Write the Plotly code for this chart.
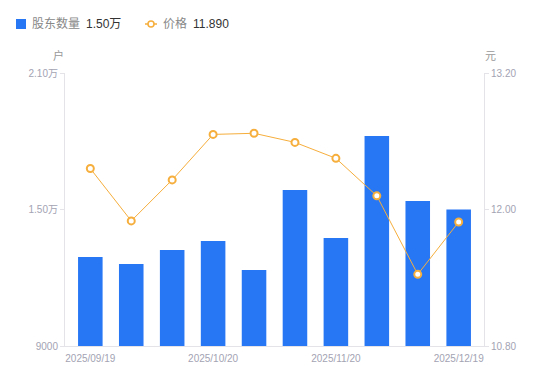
import plotly.graph_objects as go

dates = ["2025/09/19", "2025/09/30", "2025/10/10", "2025/10/20", "2025/10/31",
         "2025/11/10", "2025/11/20", "2025/11/30", "2025/12/10", "2025/12/19"]
holders = [12910, 12600, 13220, 13620, 12340, 15860, 13750, 18230, 15370, 15000]
prices = [12.36, 11.90, 12.26, 12.66, 12.67, 12.59, 12.45, 12.12, 11.43, 11.89]
x_tick_labels = ["2025/09/19", "2025/10/20", "2025/11/20", "2025/12/19"]
left_ticks = [9000, 15000, 21000]
left_tick_text = ["9000", "1.50万", "2.10万"]
right_ticks = [10.80, 12.00, 13.20]
right_tick_text = ["10.80", "12.00", "13.20"]

BLUE = "#2777f5"
ORANGE = "#f6ae3c"
GRAY = "#a3a3b3"
AXIS = "#e3e3e8"
FONT = "Liberation Sans, Arial, Noto Sans CJK SC"

fig = go.Figure()
fig.add_trace(go.Bar(x=dates, y=holders, marker_color=BLUE, marker_line_width=0,
                     yaxis="y", showlegend=False))
fig.add_trace(go.Scatter(x=dates, y=prices, yaxis="y2", mode="lines+markers",
                         line=dict(color=ORANGE, width=1),
                         marker=dict(symbol="circle", size=7, color="white",
                                     line=dict(color=ORANGE, width=2)),
                         showlegend=False))

# page body has an 8px margin, so offsets compensate
fig.update_layout(
    width=550, height=381,
    margin=dict(l=57, r=74, t=65, b=43),
    paper_bgcolor="white", plot_bgcolor="white",
    font=dict(family=FONT, size=10, color=GRAY),
    bargap=0.4,
    xaxis=dict(type="category", tickvals=x_tick_labels, ticktext=x_tick_labels,
               showgrid=False, showline=True, linecolor=AXIS, linewidth=1,
               ticks="", ticklabelstandoff=3,
               tickfont=dict(size=10, color=GRAY), zeroline=False),
    yaxis=dict(range=[9000, 21000], tickvals=left_ticks, ticktext=left_tick_text,
               showgrid=False, showline=True, linecolor=AXIS, linewidth=1,
               ticks="outside", ticklen=4, tickcolor=AXIS,
               tickfont=dict(size=10, color=GRAY), zeroline=False),
    yaxis2=dict(range=[10.80, 13.20], tickvals=right_ticks, ticktext=right_tick_text,
                overlaying="y", side="right",
                showgrid=False, showline=True, linecolor=AXIS, linewidth=1,
                ticks="outside", ticklen=4, tickcolor=AXIS,
                tickfont=dict(size=10, color=GRAY), zeroline=False),
)

# axis unit titles
fig.add_annotation(text="户", xref="paper", yref="paper", x=-7 / 419, y=1 + 9 / 273,
                   xanchor="center", yanchor="bottom", showarrow=False,
                   font=dict(size=11, color="#999999"))
fig.add_annotation(text="元", xref="paper", yref="paper", x=1 + 6 / 419, y=1 + 9 / 273,
                   xanchor="center", yanchor="bottom", showarrow=False,
                   font=dict(size=11, color="#999999"))

# custom legend
fig.add_shape(type="rect", xref="paper", yref="paper",
              x0=(16 - 65) / 419, x1=(26 - 65) / 419,
              y0=(346 - 29) / 273, y1=(346 - 19) / 273,
              fillcolor=BLUE, line_width=0)
fig.add_annotation(text="股东数量", xref="paper", yref="paper",
                   x=(30 - 65) / 419, y=(346 - 24) / 273, xanchor="left", yanchor="middle",
                   showarrow=False, font=dict(size=12, color="#888888"))
fig.add_annotation(text=f"{holders[-1]/10000:.2f}万", xref="paper", yref="paper",
                   x=(84 - 65) / 419, y=(346 - 24) / 273, xanchor="left", yanchor="middle",
                   showarrow=False, font=dict(size=12, color="#333333"))
fig.add_shape(type="line", xref="paper", yref="paper",
              x0=(145 - 65) / 419, x1=(157 - 65) / 419,
              y0=(346 - 24) / 273, y1=(346 - 24) / 273,
              line=dict(color=ORANGE, width=1.5))
fig.add_shape(type="circle", xref="paper", yref="paper",
              x0=(148 - 65) / 419, x1=(154 - 65) / 419,
              y0=(346 - 27) / 273, y1=(346 - 21) / 273,
              fillcolor="white", line=dict(color=ORANGE, width=1.5))
fig.add_annotation(text="价格", xref="paper", yref="paper",
                   x=(161 - 65) / 419, y=(346 - 24) / 273, xanchor="left", yanchor="middle",
                   showarrow=False, font=dict(size=12, color="#888888"))
fig.add_annotation(text=f"{prices[-1]:.3f}", xref="paper", yref="paper",
                   x=(191 - 65) / 419, y=(346 - 24) / 273, xanchor="left", yanchor="middle",
                   showarrow=False, font=dict(size=12, color="#333333"))

fig.write_html("out.html")
